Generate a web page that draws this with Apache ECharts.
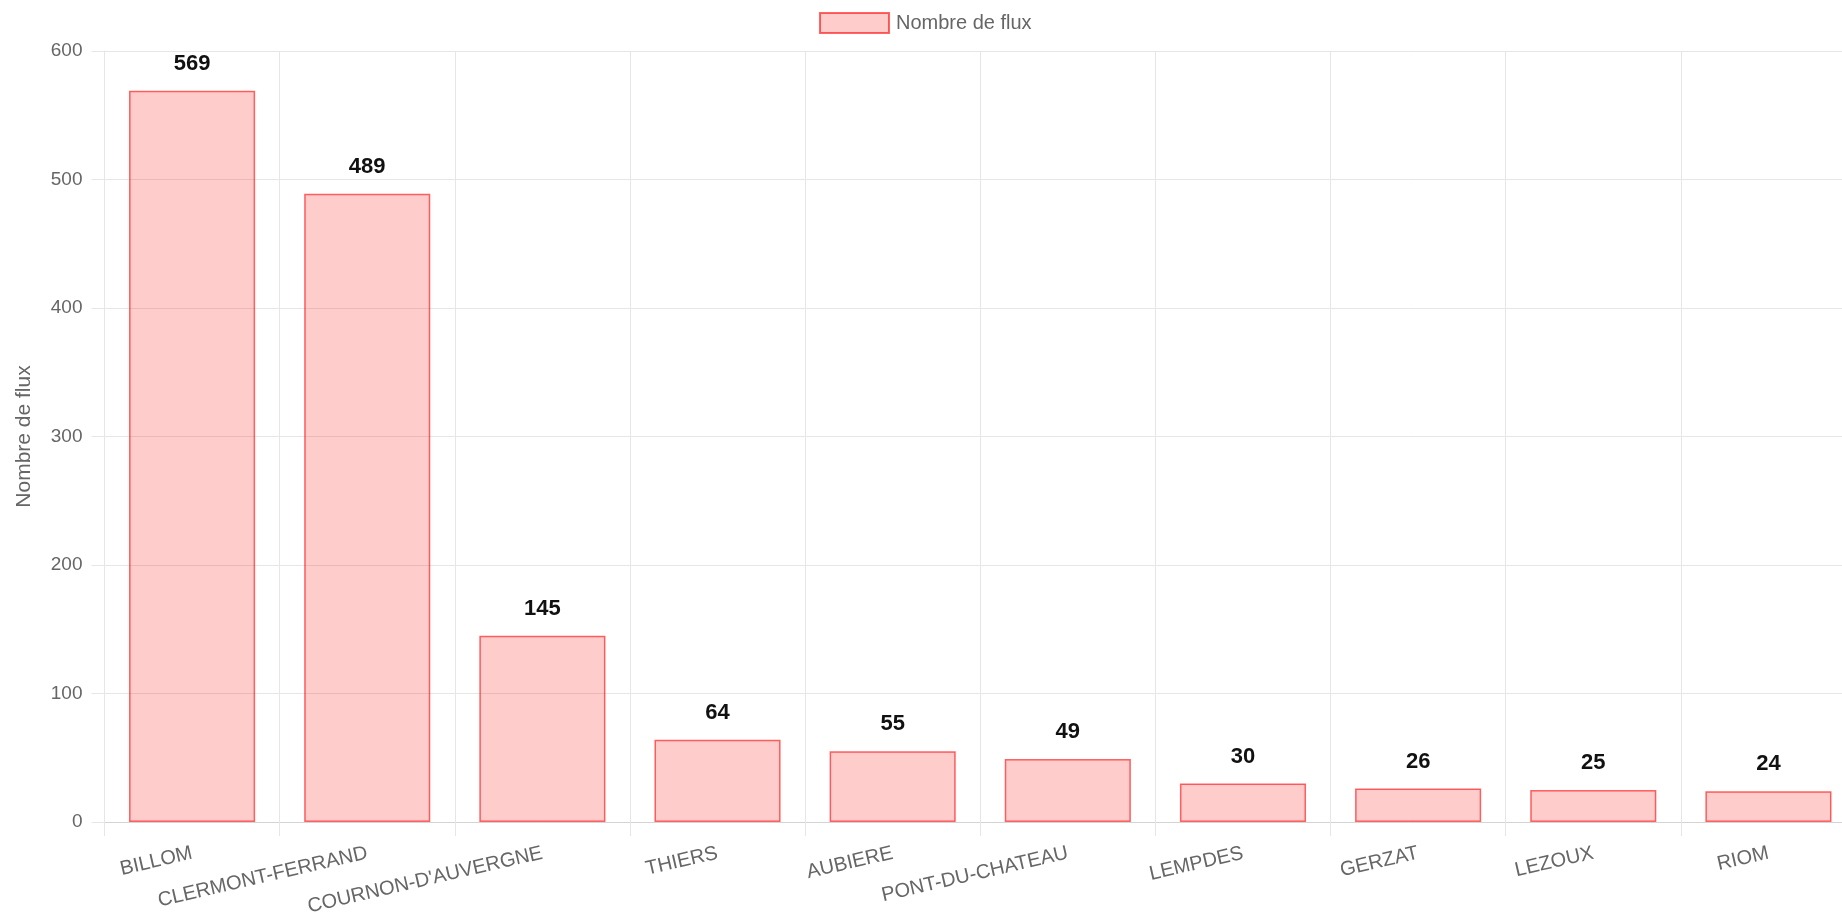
<!DOCTYPE html>
<html><head><meta charset="utf-8">
<script src="https://cdn.jsdelivr.net/npm/echarts@6/dist/echarts.min.js"></script>
<style>html,body{margin:0;padding:0;background:#fff;overflow:hidden;}#c{width:1842px;height:913px;}</style>
</head><body><div id="c"></div>
<script>
const categories = ["BILLOM","CLERMONT-FERRAND","COURNON-D'AUVERGNE","THIERS","AUBIERE","PONT-DU-CHATEAU","LEMPDES","GERZAT","LEZOUX","RIOM"];
const fluxValues = [569, 489, 145, 64, 55, 49, 30, 26, 25, 24];
const seriesName = "Nombre de flux";
const yTicks = {min: 0, max: 600, interval: 100};

const chart = echarts.init(document.getElementById('c'), null, {renderer: 'canvas'});
const font = 'Liberation Sans, Arial, Helvetica, sans-serif';
chart.setOption({
  animation: false,
  textStyle: {fontFamily: font},
  legend: {
    top: 12, left: 819, padding: 0,
    itemWidth: 69, itemHeight: 20, itemGap: 10,
    icon: 'rect',
    textStyle: {fontSize: 20, color: '#666', fontFamily: font, padding: [0, 0, 0, 2]},
    data: [seriesName]
  },
  grid: {left: 104.5, right: -14, top: 51, bottom: 91, containLabel: false, outerBoundsMode: 'none'},
  xAxis: {
    type: 'category', data: categories, boundaryGap: true,
    axisLine: {show: true, lineStyle: {color: '#d4d4d4', width: 1}},
    axisTick: {show: true, length: 14, lineStyle: {color: '#e6e6e6'}},
    splitLine: {show: true, lineStyle: {color: '#e6e6e6'}},
    axisLabel: {rotate: 13, margin: 31, fontSize: 20, color: '#666', fontFamily: font, interval: 0}
  },
  yAxis: {
    type: 'value', min: yTicks.min, max: yTicks.max, interval: yTicks.interval,
    name: seriesName, nameLocation: 'middle', nameGap: 70, nameRotate: 90,
    nameTextStyle: {fontSize: 21, color: '#666', fontFamily: font},
    axisLine: {show: true, lineStyle: {color: '#e6e6e6'}},
    axisTick: {show: true, length: 13, lineStyle: {color: '#e6e6e6'}},
    splitLine: {show: true, lineStyle: {color: '#e6e6e6'}},
    axisLabel: {margin: 22, fontSize: 19, color: '#666', fontFamily: font}
  },
  series: [{
    name: seriesName, type: 'bar', data: fluxValues, barWidth: '72%',
    itemStyle: {color: 'rgba(255,0,0,0.2)', borderColor: 'rgba(255,0,0,0.6)', borderWidth: 1.5},
    label: {show: true, position: 'top', distance: 16, fontSize: 22, fontWeight: 'bold', color: '#111', fontFamily: font}
  }]
});
</script></body></html>
